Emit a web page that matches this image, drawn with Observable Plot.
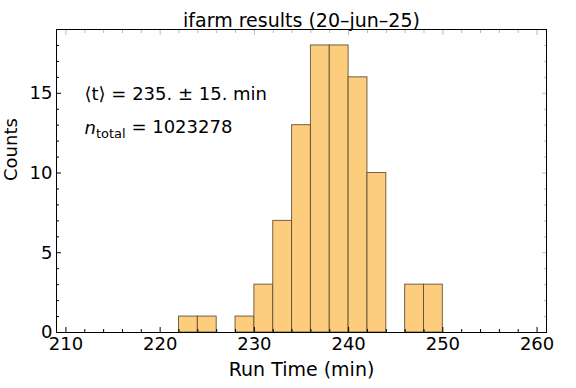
<!DOCTYPE html>
<html>
<head>
<meta charset="utf-8">
<script src="https://cdn.jsdelivr.net/npm/d3@7"></script>
<script src="https://cdn.jsdelivr.net/npm/@observablehq/plot@0.6"></script>
<style>
  html, body { margin: 0; padding: 0; background: #fff; }
  svg { font-family: "DejaVu Sans", sans-serif; }
</style>
</head>
<body>
<div id="chart"></div>
<script>
// Histogram bins (lower edge, width 2 min) and counts
const binStart = [222, 224, 228, 230, 232, 234, 236, 238, 240, 242, 246, 248];
const binWidth = 2;
const counts   = [1, 1, 1, 3, 7, 13, 18, 18, 16, 10, 3, 3];

const xMajor = [210, 220, 230, 240, 250, 260];
const xMinor = d3.range(210, 261, 2).filter(v => v % 10 !== 0);
const yMajor = [0, 5, 10, 15];
const yMinor = d3.range(0, 19, 1).filter(v => v % 5 !== 0);

const titleText = "ifarm results (20\u2013jun\u201325)";
const xLabel = "Run Time (min)";
const yLabel = "Counts";
const meanLine = "\u27E8t\u27E9 = 235. \u00B1 15. min";
const nTotal = "1023278";

const bins = binStart.map((s, i) => ({x1: s, x2: s + binWidth, y: counts[i]}));

const FS = 18;
const tickStyle = (anchor, ticks, size, stroke) => (anchor === "top" || anchor === "bottom")
  ? Plot.axisX({anchor, ticks, tickSize: -size, fill: "none", stroke, label: null})
  : Plot.axisY({anchor, ticks, tickSize: -size, fill: "none", stroke, label: null});

const chart = Plot.plot({
  width: 576,
  height: 388,
  marginLeft: 56,
  marginRight: 30,
  marginTop: 29,
  marginBottom: 56,
  style: {fontFamily: "DejaVu Sans, sans-serif", fontSize: FS + "px", background: "#fff"},
  x: {domain: [209, 261]},
  y: {domain: [0, 19]},
  marks: [
    Plot.rectY(bins, {x1: "x1", x2: "x2", y: "y", fill: "#FDCD7E", stroke: "#5b4a2e", strokeOpacity: 0.85, strokeWidth: 1}),
    // inward ticks
    tickStyle("bottom", xMajor, 5, "black"),
    tickStyle("bottom", xMinor, 3, "black"),
    tickStyle("left", yMajor, 5, "black"),
    tickStyle("left", yMinor, 3, "black"),
    tickStyle("top", xMajor, 5, "#bbb"),
    tickStyle("top", xMinor, 3, "#bbb"),
    tickStyle("right", yMajor, 5, "#bbb"),
    tickStyle("right", yMinor, 3, "#bbb"),
    // tick labels
    Plot.axisX({anchor: "bottom", ticks: xMajor, tickSize: 0, tickPadding: 5, label: null, fontSize: FS}),
    Plot.axisY({anchor: "left", ticks: yMajor, tickSize: 0, tickPadding: 4, label: null, fontSize: FS}),
    Plot.frame({stroke: "black", strokeWidth: 1}),
    // title and axis labels
    Plot.text([titleText], {frameAnchor: "top", dy: -16, fontSize: 19, fill: "black"}),
    Plot.text([xLabel], {frameAnchor: "bottom", dy: 43, fontSize: 19, fill: "black"}),
    Plot.text([yLabel], {frameAnchor: "left", dx: -45, rotate: -90, fontSize: FS, fill: "black"}),
    // annotations
    Plot.text([meanLine], {frameAnchor: "top-left", dx: 28, dy: 58, textAnchor: "start", fontSize: FS, fill: "black"}),
    Plot.text([nTotal], {frameAnchor: "top-left", dx: 28, dy: 92, textAnchor: "start", fontSize: FS, fill: "black", className: "ntotal"})
  ]
});

// Render the n_total label with italic n and subscript "total"
d3.select(chart).selectAll(".ntotal text").each(function() {
  const t = d3.select(this);
  const val = t.text();
  t.text(null);
  t.append("tspan").attr("font-style", "italic").text("n");
  t.append("tspan").attr("font-size", "13px").attr("dy", "0.3em").text("total");
  t.append("tspan").attr("dy", "-0.3em").text(" = " + val);
});

document.getElementById("chart").appendChild(chart);
</script>
</body>
</html>
